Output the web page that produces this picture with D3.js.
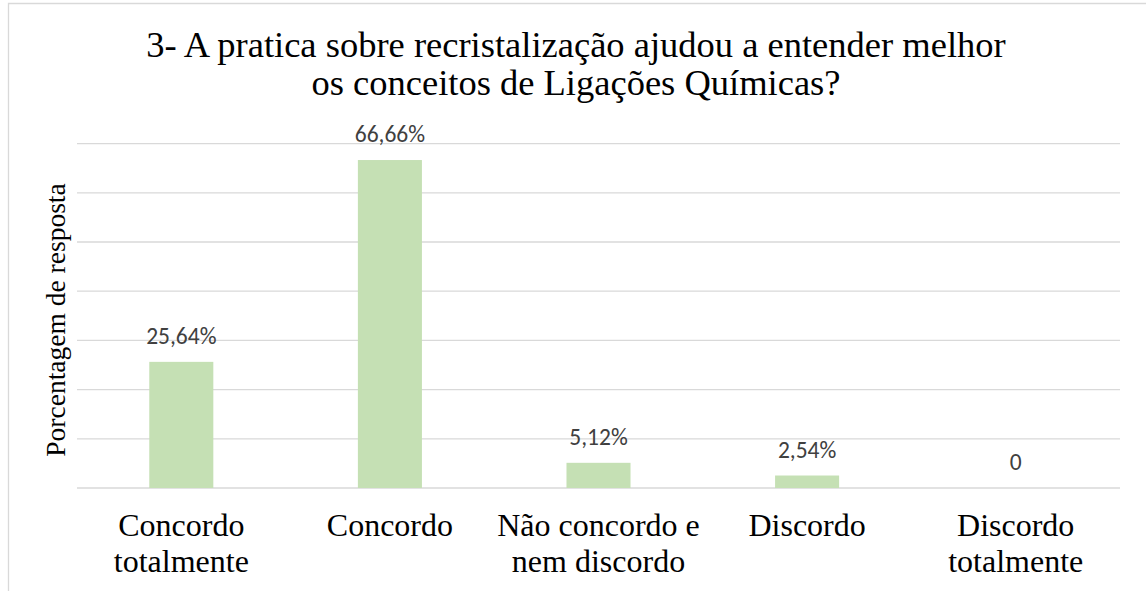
<!DOCTYPE html>
<html>
<head>
<meta charset="utf-8">
<script src="https://cdn.jsdelivr.net/npm/d3@7"></script>
<style>
  body { margin: 0; background: #fff; }
  svg { display: block; }
</style>
</head>
<body>
<svg id="chart"></svg>
<script>
// Chart data
const categories = [
  ["Concordo", "totalmente"],
  ["Concordo"],
  ["Não concordo e", "nem discordo"],
  ["Discordo"],
  ["Discordo", "totalmente"]
];
const values = [25.64, 66.66, 5.12, 2.54, 0];
const valueLabels = ["25,64%", "66,66%", "5,12%", "2,54%", "0"];
const yTicks = [0, 10, 20, 30, 40, 50, 60, 70];
const titleLines = [
  "3- A pratica sobre recristalização ajudou a entender melhor",
  "os conceitos de Ligações Químicas?"
];
const yLabel = "Porcentagem de resposta";

const SERIF = '"Liberation Serif"';
const SANS = '"Carlito"';

const width = 1146;
const height = 591;
const margin = { top: 143, right: 26, bottom: 103, left: 77 };

const svg = d3.select("#chart")
  .attr("width", width)
  .attr("height", height);

// chart area border (only top and left edges are visible)
svg.append("path")
  .attr("d", "M8.5," + height + "V3.5H" + width)
  .attr("fill", "none")
  .attr("stroke", "#d9d9d9")
  .attr("stroke-width", 1.3);

// x scale
const x = d3.scaleBand()
  .domain(d3.range(categories.length))
  .range([margin.left, width - margin.right])
  .paddingInner(0.693)
  .paddingOuter(0.3465);

// y scale
const y = d3.scaleLinear()
  .domain([0, 70])
  .range([height - margin.bottom, margin.top + 0.6]);

// gridlines
svg.append("g")
  .selectAll("line")
  .data(yTicks)
  .join("line")
  .attr("x1", margin.left)
  .attr("x2", width - margin.right)
  .attr("y1", (d) => y(d))
  .attr("y2", (d) => y(d))
  .attr("stroke", "#d9d9d9")
  .attr("stroke-width", 1.3);

// bars
svg.append("g")
  .attr("fill", "#c5e0b4")
  .selectAll("rect")
  .data(values)
  .join("rect")
  .attr("x", (d, i) => x(i))
  .attr("y", (d) => y(d))
  .attr("width", x.bandwidth())
  .attr("height", (d) => y(0) - y(d));

// data labels
svg.append("g")
  .selectAll("text")
  .data(values)
  .join("text")
  .attr("x", (d, i) => x(i) + x.bandwidth() / 2)
  .attr("y", (d) => y(d) - 18)
  .attr("text-anchor", "middle")
  .style("font-family", SANS)
  .style("font-size", "23.5px")
  .attr("fill", "#404040")
  .text((d, i) => valueLabels[i]);

// category labels
categories.forEach((lines, i) => {
  const t = svg.append("text")
    .attr("x", x(i) + x.bandwidth() / 2)
    .attr("y", 536)
    .attr("text-anchor", "middle")
    .style("font-family", SERIF)
    .style("font-size", "32px")
    .attr("fill", "#000");
  lines.forEach((line, j) => {
    t.append("tspan")
      .attr("x", x(i) + x.bandwidth() / 2)
      .attr("dy", j === 0 ? 0 : 36)
      .text(line);
  });
});

// y axis title
svg.append("text")
  .attr("transform", "translate(65,320) rotate(-90)")
  .attr("text-anchor", "middle")
  .style("font-family", SERIF)
  .style("font-size", "27.5px")
  .attr("fill", "#000")
  .text(yLabel);

// chart title
svg.append("g")
  .selectAll("text")
  .data(titleLines)
  .join("text")
  .attr("x", 576)
  .attr("y", (d, i) => 57 + i * 38)
  .attr("text-anchor", "middle")
  .style("font-family", SERIF)
  .style("font-size", "36.5px")
  .attr("fill", "#000")
  .text((d) => d);
</script>
</body>
</html>
